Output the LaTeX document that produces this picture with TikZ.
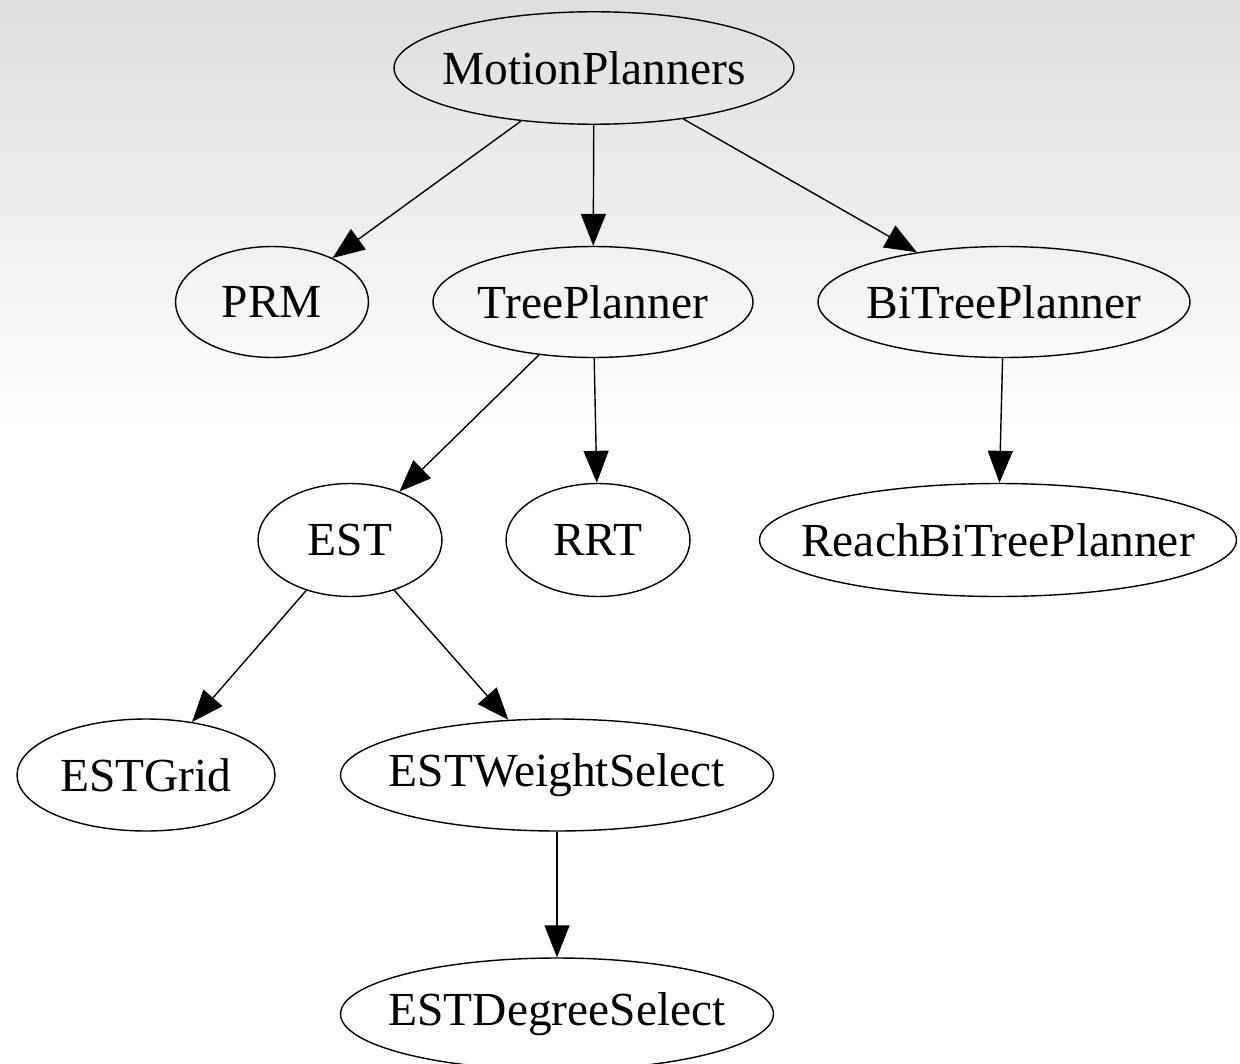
\documentclass[tikz,border=0pt]{standalone}
\usepackage{fontspec}
\setmainfont{Liberation Serif}
\usetikzlibrary{shapes.geometric,arrows.meta}
\newcommand\zwlabel[1]{\makebox[0pt]{#1}}
\tikzset{
  nd/.style={ellipse, draw=black, line width=0.8pt, inner sep=0pt, font=\fontsize{27}{30}\selectfont},
  edge/.style={line width=0.8pt, -{Triangle[length=0.64cm,width=0.5cm]}}
}
\begin{document}
\begin{tikzpicture}[x=0.02cm, y=-0.02cm]
\useasboundingbox (0,0) rectangle (1240,1064);
\clip (0,0) rectangle (1240,1064);
\fill[white] (0,0) rectangle (1240,1064);
\shade[top color=black!13, bottom color=white] (0,0) rectangle (1240,430);
\node[nd, minimum width=8cm, minimum height=2.25cm] (mp) at (594,68) {\zwlabel{MotionPlanners}};
\node[nd, minimum width=3.86cm, minimum height=2.22cm] (prm) at (272,302) {\zwlabel{PRM}};
\node[nd, minimum width=6.4cm, minimum height=2.22cm] (tp) at (593,302) {\zwlabel{TreePlanner}};
\node[nd, minimum width=7.44cm, minimum height=2.22cm] (btp) at (1004,302) {\zwlabel{BiTreePlanner}};
\node[nd, minimum width=3.68cm, minimum height=2.26cm] (est) at (350,540) {\zwlabel{EST}};
\node[nd, minimum width=3.68cm, minimum height=2.26cm] (rrt) at (598,540) {\zwlabel{RRT}};
\node[nd, minimum width=9.54cm, minimum height=2.26cm] (rbtp) at (998,540) {\zwlabel{ReachBiTreePlanner}};
\node[nd, minimum width=5.16cm, minimum height=2.24cm] (grid) at (146,775) {\zwlabel{ESTGrid}};
\node[nd, minimum width=8.66cm, minimum height=2.24cm] (ws) at (557,775) {\zwlabel{ESTWeightSelect}};
\node[nd, minimum width=8.66cm, minimum height=2.24cm] (ds) at (557,1014) {\zwlabel{ESTDegreeSelect}};
\draw[edge] (mp) -- (prm);
\draw[edge] (mp) -- (tp);
\draw[edge] (mp) -- (btp);
\draw[edge] (tp) -- (est);
\draw[edge] (tp) -- (rrt);
\draw[edge] (btp) -- (rbtp);
\draw[edge] (est) -- (grid);
\draw[edge] (est) -- (ws);
\draw[edge] (ws) -- (ds);
\end{tikzpicture}
\end{document}
